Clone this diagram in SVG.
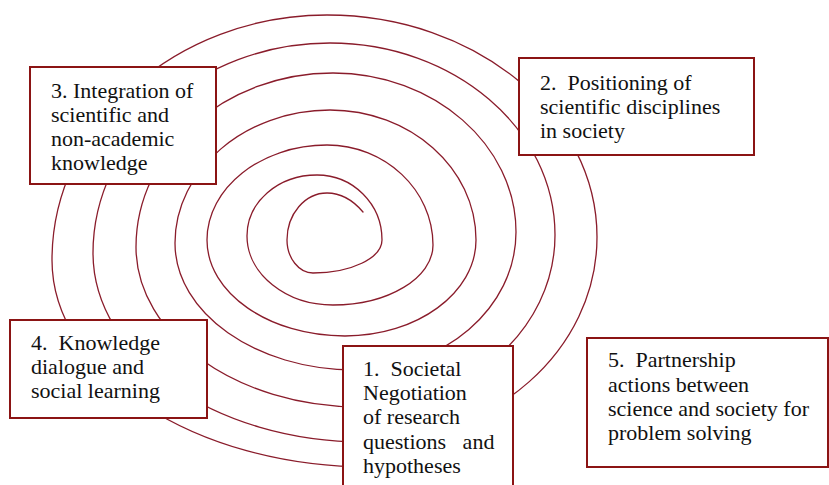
<svg xmlns="http://www.w3.org/2000/svg" width="829" height="485" viewBox="0 0 829 485">
<style>
.box{fill:#ffffff;stroke:#8b1414;stroke-width:2}
.lbl{font-family:"Liberation Serif","Times New Roman",serif;font-size:22px;fill:#111111;white-space:pre}
.sp{fill:none;stroke:#8a1c2b;stroke-width:1.3;stroke-linecap:round}
</style>
<rect width="829" height="485" fill="#ffffff"/>
<g id="connectors">
<path class="sp" d="M363,212 C352,199 340,193 327,193 C305,193 287,214 287,240 C287,258 299,273 313,273 C351,273 382,258 382,240 C382,204 353,175 317,175 C278,175 247,202 247,236 C247,274 286,305 333,305 C388,305 433,278 433,245 C433,190 385,145 327,145 C261,145 207,188 207,240 C207,293 269,336 345,336 C417,336 476,293 476,240 C476,168 410,110 330,110 C245,110 175,170 175,243 C175,313 256,370 355,370 C444,370 516,308 516,232 C516,145 434,73 333,73 C225,73 136,151 136,247 C136,335 237,407 360,407 C467,407 555,330 555,235 C555,129 454,43 330,43 C200,43 93,138 93,253 C93,357 215,442 365,442 C493,442 597,350 597,237 C597,115 476,15 327,15 C176,15 52,125 52,260 C52,374 195,467 370,467 C400,467 430,465 450,462"/>
</g>
<g id="node3">
<rect class="box" x="30" y="67" width="186" height="117"/>
<text class="lbl" x="51" y="98">3. Integration of</text>
<text class="lbl" x="51" y="122">scientific and</text>
<text class="lbl" x="51" y="146">non-academic</text>
<text class="lbl" x="51" y="170">knowledge</text>
</g>
<g id="node2">
<rect class="box" x="519" y="58" width="235" height="97"/>
<text class="lbl" x="540" y="89.5">2.  Positioning of</text>
<text class="lbl" x="540" y="113.5">scientific disciplines</text>
<text class="lbl" x="540" y="137.5">in society</text>
</g>
<g id="node4">
<rect class="box" x="10" y="320" width="197" height="98"/>
<text class="lbl" x="31" y="350">4.  Knowledge</text>
<text class="lbl" x="31" y="374">dialogue and</text>
<text class="lbl" x="31" y="398">social learning</text>
</g>
<g id="node1">
<rect class="box" x="343" y="346" width="170" height="150"/>
<text class="lbl" x="363" y="376">1.  Societal</text>
<text class="lbl" x="363" y="400">Negotiation</text>
<text class="lbl" x="363" y="424">of research</text>
<text class="lbl" x="363" y="449">questions   and</text>
<text class="lbl" x="363" y="473">hypotheses</text>
</g>
<g id="node5">
<rect class="box" x="587" y="338" width="241" height="129"/>
<text class="lbl" x="608" y="367">5.  Partnership</text>
<text class="lbl" x="608" y="391.5">actions between</text>
<text class="lbl" x="608" y="416">science and society for</text>
<text class="lbl" x="608" y="440">problem solving</text>
</g>
</svg>
